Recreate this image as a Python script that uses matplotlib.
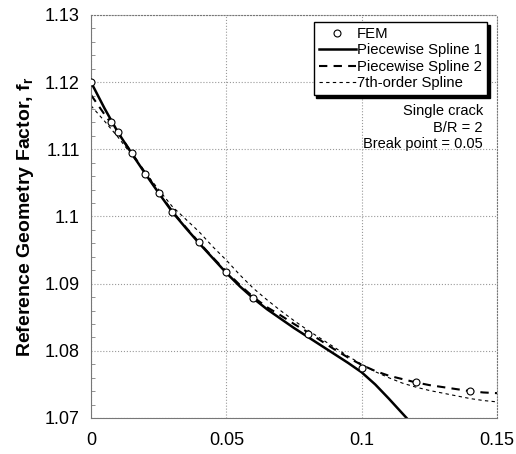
import numpy as np
import matplotlib
matplotlib.use('Agg')
import matplotlib.pyplot as plt
from matplotlib.ticker import MultipleLocator, FuncFormatter

plt.rcParams.update({
    'font.family': ['Liberation Sans', 'DejaVu Sans'],
    'font.size': 11,
    'mathtext.fontset': 'custom',
    'mathtext.rm': 'Liberation Sans',
    'mathtext.bf': 'Liberation Sans:bold',
})

# FEM data points
fem_x = [0, 0.0075, 0.01, 0.015, 0.02, 0.025, 0.03, 0.04, 0.05, 0.06, 0.08, 0.1, 0.12, 0.14]
fem_y = [1.1200, 1.1141, 1.1126, 1.1095, 1.1064, 1.1035, 1.1007, 1.0962, 1.0917, 1.0879,
         1.0825, 1.0775, 1.0753, 1.0740]

# curves
s1_x = [0, 0.005, 0.01, 0.015, 0.02, 0.025, 0.03, 0.035, 0.04, 0.045, 0.05, 0.055, 0.06,
        0.065, 0.07, 0.075, 0.08, 0.085, 0.09, 0.095, 0.1, 0.105, 0.11, 0.115, 0.1166]
s1_y = [1.1200, 1.1161, 1.1125, 1.1094, 1.1064, 1.1035, 1.1007, 1.0983, 1.0960, 1.0938,
        1.0916, 1.0896, 1.0878, 1.0862, 1.0848, 1.0834, 1.0821, 1.0808, 1.0795, 1.0782,
        1.0768, 1.0750, 1.0729, 1.0707, 1.0700]

s2_x = [0, 0.005, 0.01, 0.015, 0.02, 0.025, 0.03, 0.035, 0.04, 0.045, 0.05, 0.055, 0.06,
        0.065, 0.07, 0.075, 0.08, 0.085, 0.09, 0.095, 0.1, 0.105, 0.11, 0.115, 0.12, 0.125,
        0.13, 0.135, 0.14, 0.145, 0.15]
s2_y = [1.1181, 1.1152, 1.1125, 1.1095, 1.1065, 1.1036, 1.1008, 1.0984, 1.0961, 1.0939,
        1.0918, 1.0898, 1.0880, 1.0865, 1.0853, 1.0840, 1.0828, 1.0815, 1.0802, 1.0790,
        1.0779, 1.0770, 1.0763, 1.0758, 1.0753, 1.0749, 1.0746, 1.0743, 1.0740, 1.0738,
        1.0737]

s7_x = s2_x
s7_y = [1.1165, 1.1142, 1.1118, 1.1092, 1.1066, 1.1040, 1.1015, 1.0996, 1.0977, 1.0955,
        1.0935, 1.0913, 1.0893, 1.0876, 1.0860, 1.0845, 1.0831, 1.0818, 1.0805, 1.0792,
        1.0780, 1.0769, 1.0760, 1.0752, 1.0746, 1.0741, 1.0737, 1.0733, 1.0729, 1.0726,
        1.0724]

fig = plt.figure(figsize=(5.16, 4.54), dpi=100)
ax = fig.add_axes([91/516, 36/454, 406/516, 403/454])

ax.plot(fem_x, fem_y, 'o', mfc='white', mec='black', ms=5, mew=0.8, label='FEM', zorder=5)
ax.plot(s1_x, s1_y, '-', color='black', lw=1.8, label='Piecewise Spline 1')
ax.plot(s2_x, s2_y, '--', color='black', lw=1.5, dashes=(4, 3), label='Piecewise Spline 2')
ax.plot(s7_x, s7_y, '--', color='black', lw=0.8, dashes=(3, 3), label='7th-order Spline')

ax.set_xlim(0, 0.15)
ax.set_ylim(1.07, 1.13)
ax.xaxis.set_major_locator(MultipleLocator(0.05))
ax.yaxis.set_major_locator(MultipleLocator(0.01))
ax.yaxis.set_minor_locator(MultipleLocator(0.002))
ax.xaxis.set_major_formatter(FuncFormatter(lambda v, p: f'{round(v, 3):g}'))
ax.yaxis.set_major_formatter(FuncFormatter(lambda v, p: f'{round(v, 3):g}'))
ax.tick_params(direction='in', length=0, labelsize=13)
ax.tick_params(axis='y', pad=8)
ax.tick_params(axis='x', pad=10)
ax.tick_params(axis='y', which='minor', direction='in', length=3, color='gray', width=0.6)
ax.grid(True, which='major', color='#999999', ls=':', lw=0.8)
for s in ax.spines.values():
    s.set_color('#777777'); s.set_linewidth(0.8)
for s in ['top', 'right']:
    ax.spines[s].set_linestyle(':')

ax.set_ylabel(r'Reference Geometry Factor, f$_{\mathbf{r}}$', fontsize=14,
              fontweight='bold', labelpad=6)

leg = ax.legend(loc='upper right', bbox_to_anchor=(0.975, 0.983), fontsize=10.7,
                frameon=True, fancybox=False, shadow={'color': 'black', 'alpha': 1},
                handlelength=2.5, handletextpad=0.05, labelspacing=0.16,
                borderpad=0.35, borderaxespad=0.0)
leg.get_frame().set_edgecolor('black')
leg.get_frame().set_linewidth(1.0)

ax.text(0.965, 0.778, 'Single crack\nB/R = 2\nBreak point = 0.05', transform=ax.transAxes,
        ha='right', va='top', fontsize=10.5, linespacing=1.2)

fig.savefig('out.png', dpi=100)
